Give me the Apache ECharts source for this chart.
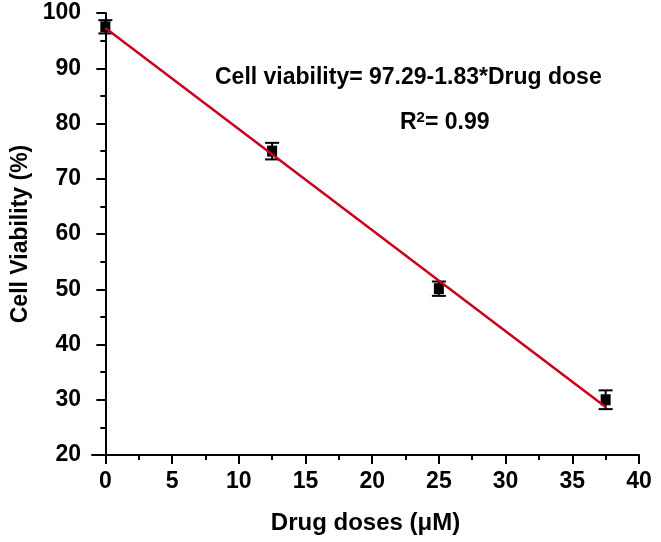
<!DOCTYPE html>
<html>
<head>
<meta charset="utf-8">
<script src="https://cdn.jsdelivr.net/npm/echarts@6/dist/echarts.min.js"></script>
<style>
  html, body { margin: 0; padding: 0; background: #fff; }
  #chart { width: 661px; height: 542px; }
</style>
</head>
<body>
<div id="chart"></div>
<script>
  // measured values
  const doses = [0, 12.5, 25, 37.5]
  const viability = [97.5, 75.0, 50.1, 30.0]
  const errors = [1.2, 1.5, 1.3, 1.7]

  // fitted line (Cell viability = 97.29 - 1.83 * dose)
  const fitX = [0, 37.5]
  const fitY = [97.29, 28.67]

  const xTicks = [0, 5, 10, 15, 20, 25, 30, 35, 40]
  const xMinorTicks = [2.5, 7.5, 12.5, 17.5, 22.5, 27.5, 32.5, 37.5]

  const font = '"Liberation Sans", Arial, sans-serif'
  const black = '#000'

  const chart = echarts.init(document.getElementById('chart'), null, { renderer: 'canvas' })

  const axisText = { color: black, fontFamily: font, fontWeight: 'bold', fontSize: 23 }
  const nameText = { color: black, fontFamily: font, fontWeight: 'bold', fontSize: 24 }

  chart.setOption({
    animation: false,
    backgroundColor: '#fff',
    grid: { left: 92, right: 22, top: 13, bottom: 87 },
    xAxis: [
      {
        type: 'value',
        min: -1,
        max: 40,
        name: 'Drug doses (μM)',
        nameLocation: 'middle',
        nameGap: 56,
        nameTextStyle: nameText,
        axisLine: { lineStyle: { color: black, width: 2 } },
        axisTick: { customValues: xTicks, length: 9, lineStyle: { color: black, width: 2 } },
        axisLabel: Object.assign({ customValues: xTicks, margin: 15 }, axisText),
        splitLine: { show: false }
      },
      {
        // minor ticks only
        type: 'value',
        min: -1,
        max: 40,
        position: 'bottom',
        axisLine: { show: false },
        axisTick: { customValues: xMinorTicks, length: 5, lineStyle: { color: black, width: 2 } },
        axisLabel: { show: false },
        splitLine: { show: false }
      }
    ],
    yAxis: {
      type: 'value',
      min: 20,
      max: 100,
      interval: 10,
      name: 'Cell Viability (%)',
      nameLocation: 'middle',
      nameGap: 54,
      nameTextStyle: Object.assign({}, nameText, { fontSize: 23 }),
      axisLine: { show: true, lineStyle: { color: black, width: 2 } },
      axisTick: { length: 9, lineStyle: { color: black, width: 2 } },
      minorTick: { show: true, splitNumber: 2, length: 5, lineStyle: { color: black, width: 2 } },
      axisLabel: Object.assign({ margin: 11 }, axisText),
      splitLine: { show: false },
      minorSplitLine: { show: false }
    },
    graphic: [
      {
        type: 'text',
        left: 215,
        top: 66,
        style: {
          text: 'Cell viability= 97.29-1.83*Drug dose',
          fill: black,
          font: 'bold 23px ' + font
        }
      },
      {
        type: 'text',
        left: 400,
        top: 110,
        style: {
          text: 'R{sup|2}= 0.99',
          fill: black,
          font: 'bold 23px ' + font,
          rich: {
            sup: { fontSize: 15, fontWeight: 'bold', fontFamily: font, verticalAlign: 'top', padding: [0, 0, 10, 0] }
          }
        }
      }
    ],
    series: [
      {
        type: 'custom',
        name: 'error',
        renderItem: (params, api) => {
          const x = api.value(0)
          const hi = api.coord([x, api.value(1) + api.value(2)])
          const lo = api.coord([x, api.value(1) - api.value(2)])
          const w = 7
          const style = { stroke: black, lineWidth: 2 }
          return {
            type: 'group',
            children: [
              { type: 'line', shape: { x1: hi[0], y1: hi[1], x2: lo[0], y2: lo[1] }, style },
              { type: 'line', shape: { x1: hi[0] - w, y1: hi[1], x2: hi[0] + w, y2: hi[1] }, style },
              { type: 'line', shape: { x1: lo[0] - w, y1: lo[1], x2: lo[0] + w, y2: lo[1] }, style }
            ]
          }
        },
        data: doses.map((d, i) => [d, viability[i], errors[i]]),
        z: 2
      },
      {
        type: 'scatter',
        symbol: 'rect',
        symbolSize: [10, 11],
        itemStyle: { color: black, opacity: 1 },
        data: doses.map((d, i) => [d, viability[i]]),
        z: 3
      },
      {
        type: 'line',
        showSymbol: false,
        lineStyle: { color: '#c8001e', width: 2.5 },
        data: fitX.map((d, i) => [d, fitY[i]]),
        z: 4
      }
    ]
  })
</script>
</body>
</html>
